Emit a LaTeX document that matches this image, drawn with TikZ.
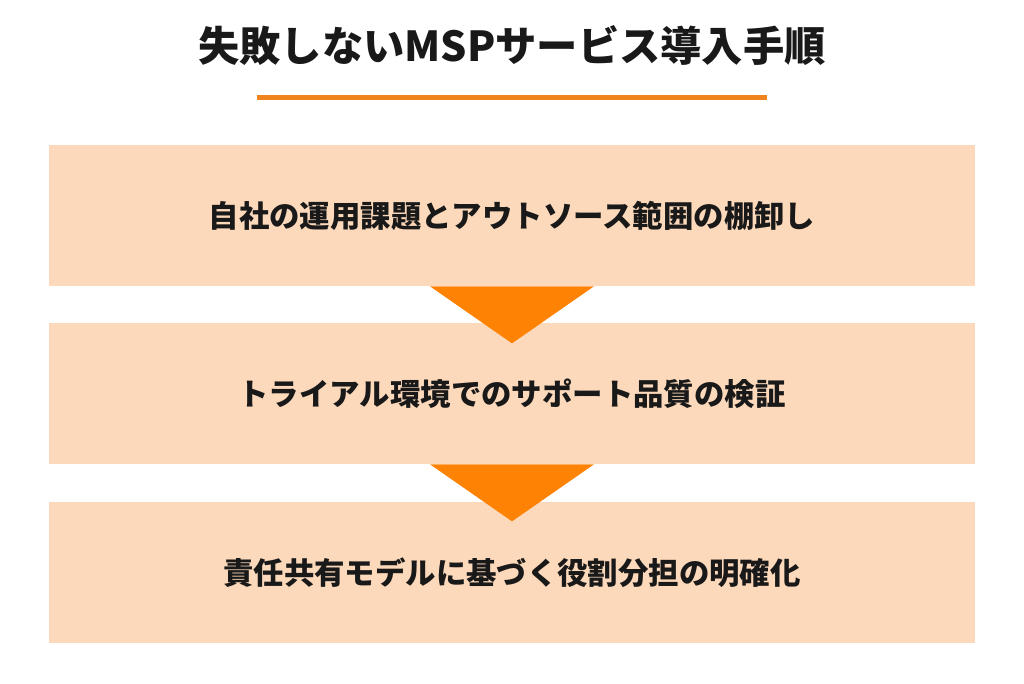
\documentclass[tikz,border=0pt]{standalone}
\usepackage{fontspec}
\newfontfamily\cjk{Noto Sans CJK JP}
\usetikzlibrary{positioning}
\usetikzlibrary{calc}
\definecolor{boxfill}{HTML}{FDD9BB}
\definecolor{arrorange}{HTML}{FE8204}
\definecolor{lineorange}{HTML}{F08520}
\tikzset{
	stepbox/.style={fill=boxfill, minimum width=18.52cm, minimum height=2.82cm, inner sep=0pt, font=\cjk\bfseries\fontsize{17.3}{20}\selectfont, text=black!90},
	arrowtri/.style={fill=arrorange},
}

\begin{document}
\begin{tikzpicture}[x=0.02cm, y=-0.02cm]
			\useasboundingbox (0,0) rectangle (1024,683);
			% Title and rule
			\node[font=\cjk\bfseries\fontsize{23.5}{28}\selectfont, text=black!90] (title) at (512,45) {失敗しないMSPサービス導入手順};
			\coordinate (ruleL) at (257,97.5);
			\coordinate (ruleR) at (767,97.5);
			\draw[lineorange, line width=2.8pt] (ruleL) -- (ruleR);
			
			% Steps
			\node[stepbox] (s1) at (512,215.5) {自社の運用課題とアウトソース範囲の棚卸し};
			\node[stepbox] (s2) at (512,393.5) {トライアル環境でのサポート品質の検証};
			\node[stepbox] (s3) at (512,572.5) {責任共有モデルに基づく役割分担の明確化};
			
			% Arrows between steps
			\foreach \a in {s1,s2} {
				\fill[arrowtri] ($(\a.south)+(-82,0)$) -- ($(\a.south)+(82,0)$) -- ($(\a.south)+(0,57)$) -- cycle;
			}
		\end{tikzpicture}
\end{document}
